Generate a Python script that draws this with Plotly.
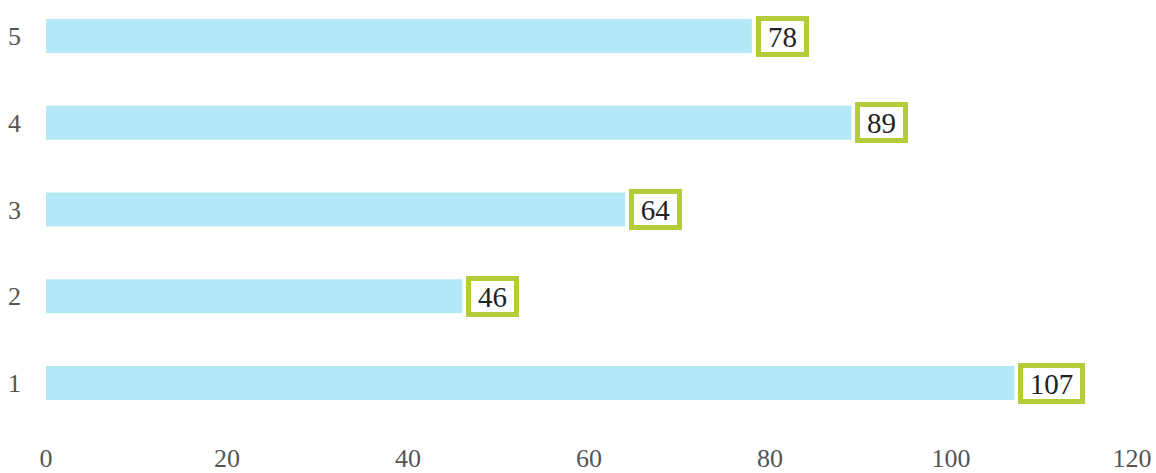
import plotly.graph_objects as go

categories = [1, 2, 3, 4, 5]
values = [107, 46, 64, 89, 78]
x_ticks = [0, 20, 40, 60, 80, 100, 120]

bar_color = "#b5e8f6"
box_color = "#b2cc3a"

fig = go.Figure()
fig.add_trace(go.Bar(
    x=values,
    y=categories,
    orientation="h",
    width=0.39,
    marker=dict(color=bar_color, line=dict(width=0)),
    hoverinfo="x+y",
))

# value labels in white boxes with a thick green frame
for cat, val in zip(categories, values):
    label = str(val)
    fig.add_annotation(
        x=val, y=cat,
        text=label,
        showarrow=False,
        xanchor="left",
        yanchor="middle",
        xshift=4,
        width=14 * len(label) + 15,
        height=31,
        align="center",
        valign="middle",
        font=dict(family="Liberation Serif", size=29, color="#222222"),
        bgcolor="white",
        bordercolor=box_color,
        borderwidth=5,
        borderpad=0,
    )

fig.update_layout(
    width=1156,
    height=473,
    margin=dict(l=46, r=24, t=10, b=33),
    plot_bgcolor="white",
    paper_bgcolor="white",
    showlegend=False,
    font=dict(family="Liberation Serif", size=26, color="#555555"),
    xaxis=dict(
        range=[0, 120],
        tickmode="array",
        tickvals=x_ticks,
        showgrid=False,
        zeroline=False,
        showline=False,
        ticks="",
        ticklabelstandoff=0,
        automargin=False,
    ),
    yaxis=dict(
        range=[0.343, 5.3],
        tickmode="array",
        tickvals=categories,
        showgrid=False,
        zeroline=False,
        showline=False,
        ticks="",
        ticklabelstandoff=24,
        automargin=False,
    ),
)

fig.write_html("out.html")
